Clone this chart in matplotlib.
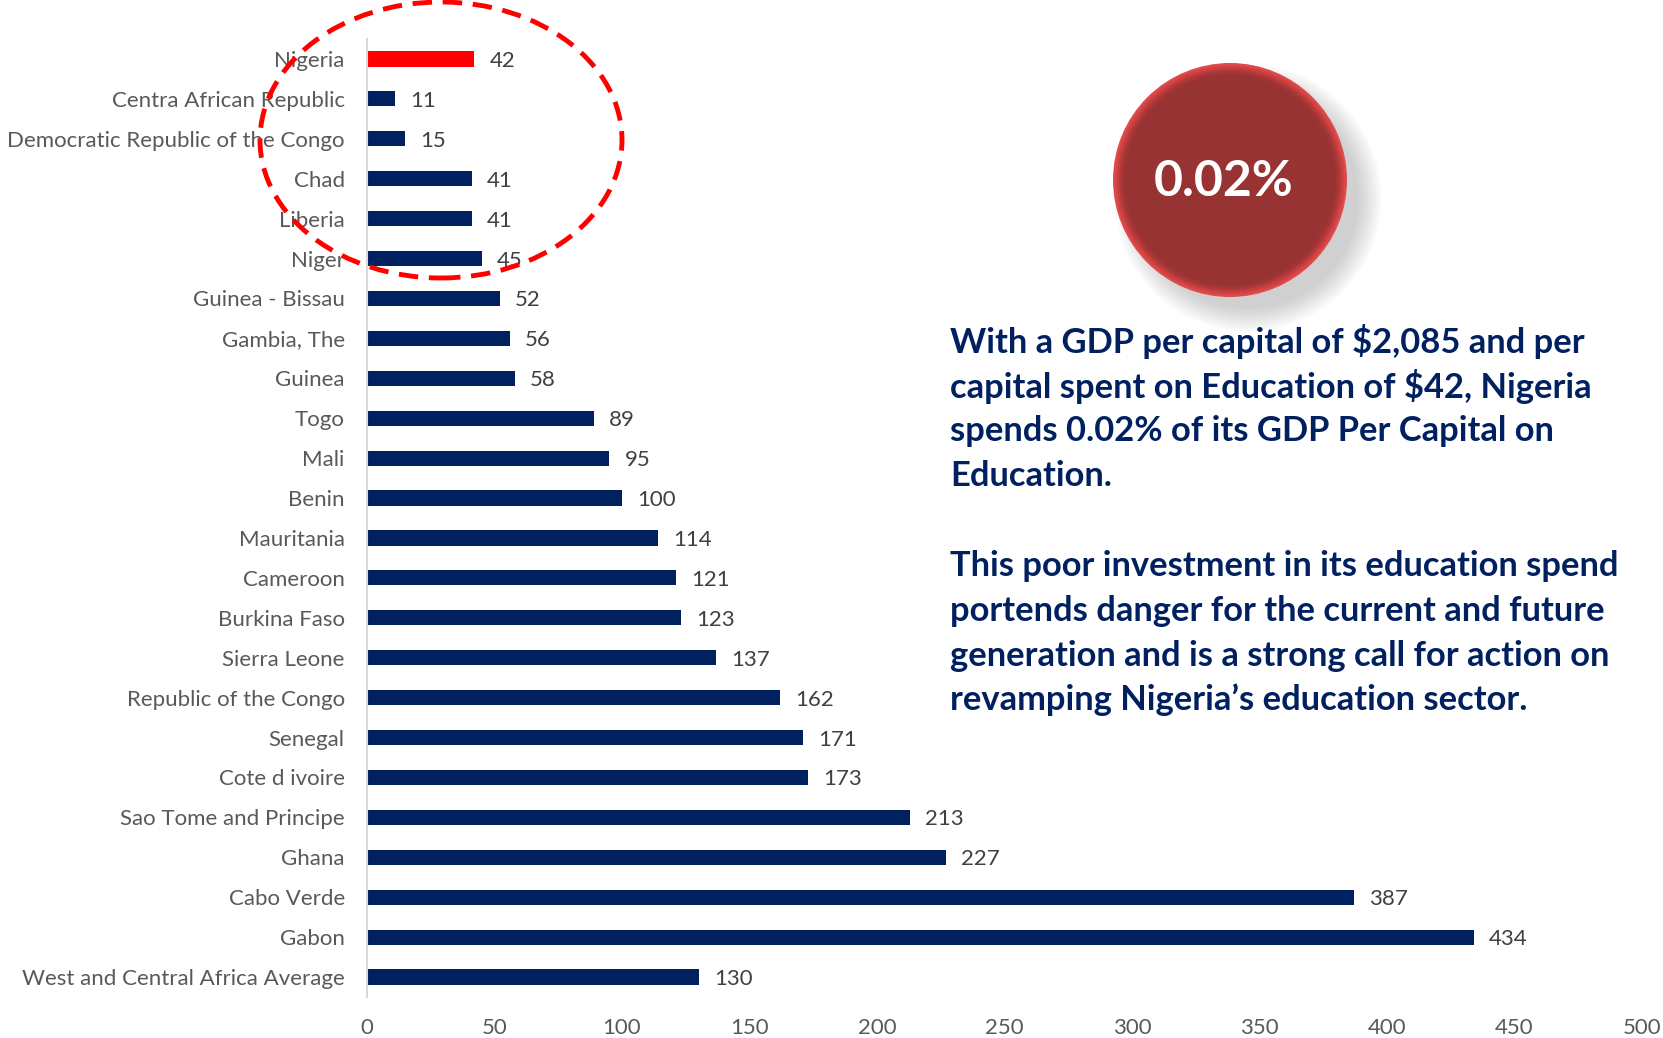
import matplotlib
matplotlib.use("Agg")
import matplotlib.pyplot as plt
from matplotlib.patches import Ellipse

countries = ["Nigeria", "Centra African Republic", "Democratic Republic of the Congo", "Chad",
             "Liberia", "Niger", "Guinea - Bissau", "Gambia, The", "Guinea", "Togo", "Mali",
             "Benin", "Mauritania", "Cameroon", "Burkina Faso", "Sierra Leone",
             "Republic of the Congo", "Senegal", "Cote d ivoire", "Sao Tome and Principe",
             "Ghana", "Cabo Verde", "Gabon", "West and Central Africa Average"]
values = [42, 11, 15, 41, 41, 45, 52, 56, 58, 89, 95, 100, 114, 121, 123, 137, 162, 171,
          173, 213, 227, 387, 434, 130]
xticks = [0, 50, 100, 150, 200, 250, 300, 350, 400, 450, 500]
highlight = "Nigeria"
circle_text = "0.02%"
para1 = ["With a GDP per capital of $2,085 and per",
         "capital spent on Education of $42, Nigeria",
         "spends 0.02% of its GDP Per Capital on",
         "Education."]
para2 = ["This poor investment in its education spend",
         "portends danger for the current and future",
         "generation and is a strong call for action on",
         "revamping Nigeria\u2019s education sector."]

FONT = "Lato"
W, H = 1663, 1038
fig = plt.figure(figsize=(W / 100, H / 100), dpi=100)
ax = fig.add_axes([367 / W, 1 - 997 / H, (1642 - 367) / W, (997 - 39) / H])

navy = "#002060"
colors = ["#FF0000" if c == highlight else navy for c in countries]
ypos = list(range(len(countries)))
ax.barh(ypos, values, height=0.38, color=colors)
ax.set_ylim(len(countries) - 0.5, -0.5)
ax.set_xlim(0, 500)
ax.set_yticks(ypos)
ax.set_yticklabels(countries, fontsize=16, color="#595959", family=FONT)
ax.set_xticks(xticks)
ax.set_xticklabels([str(t) for t in xticks], fontsize=16, color="#595959", family=FONT)
ax.tick_params(axis="both", length=0)
ax.tick_params(axis="y", pad=16)
ax.tick_params(axis="x", pad=15)
for s in ["top", "right", "bottom"]:
    ax.spines[s].set_visible(False)
ax.spines["left"].set_color("#D9D9D9")
ax.spines["left"].set_linewidth(1.5)
for y, v in zip(ypos, values):
    ax.annotate(str(v), (v, y), xytext=(11, 0), textcoords="offset points",
                va="center_baseline", ha="left", fontsize=16, color="#404040", family=FONT)

# red dashed ellipse
fig.add_artist(Ellipse((441 / W, 1 - 140 / H), 362 / W, 276 / H, transform=fig.transFigure,
                       fill=False, edgecolor="#FF0000", linewidth=3.5,
                       linestyle=(0, (4, 2.2)), zorder=10))

# circle with soft shadow
cx, cy, r = 1230, 180, 117
for i in range(10):
    rr = r + 16 - i * 2.5
    fig.add_artist(Ellipse(((cx + 18) / W, 1 - (cy + 18) / H), 2 * rr / W, 2 * rr / H,
                           transform=fig.transFigure, facecolor="#707070", edgecolor="none",
                           alpha=0.035, zorder=3))
grad = ["#E04A4A", "#D34343", "#C23D3D", "#B03838", "#A33535", "#9A3434", "#973333"]
for i, c in enumerate(grad):
    rr = r - i * 2.2
    fig.add_artist(Ellipse((cx / W, 1 - cy / H), 2 * rr / W, 2 * rr / H,
                           transform=fig.transFigure, facecolor=c, edgecolor="none",
                           zorder=4 + i * 0.01))
fig.text(cx / W - 0.004, 1 - (cy + 2) / H, circle_text, ha="center", va="center", color="white",
         fontsize=36, fontweight="bold", family=FONT, zorder=6)

# paragraph text
x0 = 950 / W
ys1 = [341.5, 386, 430.6, 476.2]
ys2 = [566.4, 610.9, 655.5, 700]
for line, y in zip(para1 + para2, ys1 + ys2):
    fig.text(x0, 1 - y / H, line, ha="left", va="center", color=navy, fontsize=24.8,
             fontweight="bold", family=FONT, parse_math=False)

fig.savefig("out.png", dpi=100)
